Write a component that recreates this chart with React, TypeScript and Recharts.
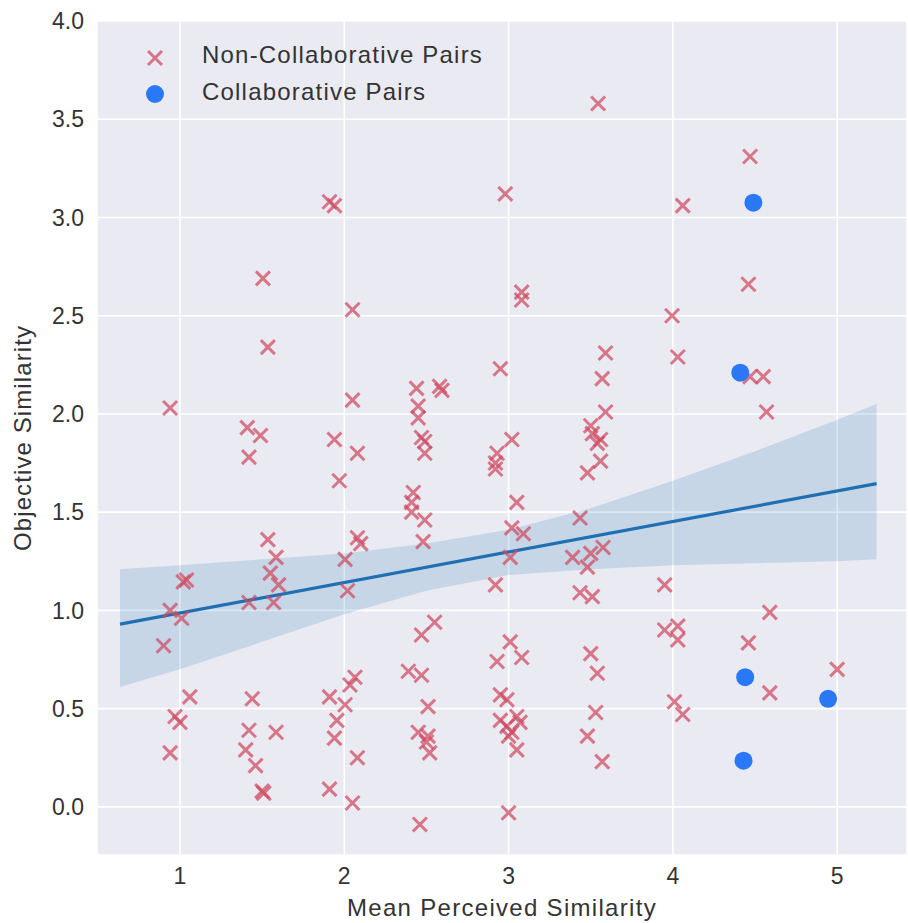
import React from 'react';
import { ComposedChart, Scatter, Line, Area, XAxis, YAxis, CartesianGrid } from 'recharts';

const nonCollaborative = [
  { x: 3.545, y: 3.58 }, { x: 4.47, y: 3.31 }, { x: 4.06, y: 3.06 }, { x: 1.91, y: 3.08 }, { x: 1.94, y: 3.06 },
  { x: 2.98, y: 3.12 }, { x: 1.505, y: 2.69 }, { x: 4.46, y: 2.66 }, { x: 3.08, y: 2.62 }, { x: 3.08, y: 2.58 },
  { x: 2.05, y: 2.53 }, { x: 3.995, y: 2.5 }, { x: 1.535, y: 2.34 }, { x: 3.59, y: 2.31 }, { x: 4.03, y: 2.29 },
  { x: 2.95, y: 2.23 }, { x: 4.47, y: 2.19 }, { x: 4.55, y: 2.19 }, { x: 3.57, y: 2.18 }, { x: 2.44, y: 2.13 },
  { x: 2.58, y: 2.14 }, { x: 2.595, y: 2.12 }, { x: 2.05, y: 2.07 }, { x: 0.94, y: 2.03 }, { x: 4.57, y: 2.01 },
  { x: 3.59, y: 2.01 }, { x: 2.45, y: 2.04 }, { x: 2.45, y: 1.98 }, { x: 1.41, y: 1.93 }, { x: 3.5, y: 1.94 },
  { x: 1.49, y: 1.89 }, { x: 3.51, y: 1.9 }, { x: 3.02, y: 1.87 }, { x: 1.94, y: 1.87 }, { x: 3.56, y: 1.87 },
  { x: 3.54, y: 1.85 }, { x: 2.47, y: 1.88 }, { x: 2.49, y: 1.86 }, { x: 2.49, y: 1.8 }, { x: 2.08, y: 1.8 },
  { x: 2.93, y: 1.8 }, { x: 1.42, y: 1.78 }, { x: 2.92, y: 1.75 }, { x: 2.92, y: 1.72 }, { x: 3.56, y: 1.76 },
  { x: 3.48, y: 1.7 }, { x: 1.97, y: 1.66 }, { x: 2.42, y: 1.6 }, { x: 3.05, y: 1.55 }, { x: 2.41, y: 1.55 },
  { x: 2.41, y: 1.5 }, { x: 3.435, y: 1.47 }, { x: 2.49, y: 1.46 }, { x: 3.02, y: 1.42 }, { x: 3.09, y: 1.39 },
  { x: 1.535, y: 1.36 }, { x: 2.08, y: 1.37 }, { x: 2.1, y: 1.34 }, { x: 2.48, y: 1.35 }, { x: 3.575, y: 1.32 },
  { x: 3.5, y: 1.29 }, { x: 3.39, y: 1.27 }, { x: 1.585, y: 1.27 }, { x: 3.01, y: 1.27 }, { x: 2.005, y: 1.26 },
  { x: 3.48, y: 1.22 }, { x: 1.55, y: 1.19 }, { x: 1.04, y: 1.155 }, { x: 1.02, y: 1.145 }, { x: 1.6, y: 1.13 },
  { x: 2.92, y: 1.13 }, { x: 3.95, y: 1.13 }, { x: 2.02, y: 1.1 }, { x: 3.435, y: 1.09 }, { x: 3.51, y: 1.07 },
  { x: 1.42, y: 1.04 }, { x: 1.57, y: 1.04 }, { x: 0.94, y: 1.0 }, { x: 1.01, y: 0.96 }, { x: 4.59, y: 0.99 },
  { x: 2.55, y: 0.94 }, { x: 3.95, y: 0.9 }, { x: 4.03, y: 0.92 }, { x: 2.47, y: 0.875 }, { x: 4.03, y: 0.85 },
  { x: 3.01, y: 0.84 }, { x: 4.46, y: 0.835 }, { x: 0.9, y: 0.82 }, { x: 3.5, y: 0.78 }, { x: 3.08, y: 0.76 },
  { x: 2.93, y: 0.74 }, { x: 2.39, y: 0.69 }, { x: 2.47, y: 0.67 }, { x: 3.54, y: 0.68 }, { x: 5.0, y: 0.7 },
  { x: 2.065, y: 0.66 }, { x: 2.035, y: 0.62 }, { x: 4.59, y: 0.58 }, { x: 2.95, y: 0.57 }, { x: 1.91, y: 0.56 },
  { x: 1.06, y: 0.56 }, { x: 1.44, y: 0.55 }, { x: 2.99, y: 0.545 }, { x: 4.01, y: 0.535 }, { x: 2.005, y: 0.52 },
  { x: 2.51, y: 0.51 }, { x: 3.53, y: 0.48 }, { x: 4.06, y: 0.47 }, { x: 0.97, y: 0.46 }, { x: 3.05, y: 0.46 },
  { x: 1.0, y: 0.43 }, { x: 1.955, y: 0.44 }, { x: 2.95, y: 0.44 }, { x: 3.07, y: 0.43 }, { x: 2.99, y: 0.41 },
  { x: 1.42, y: 0.39 }, { x: 1.585, y: 0.38 }, { x: 3.02, y: 0.38 }, { x: 2.45, y: 0.38 }, { x: 3.0, y: 0.36 },
  { x: 2.51, y: 0.36 }, { x: 3.48, y: 0.36 }, { x: 1.94, y: 0.35 }, { x: 2.5, y: 0.33 }, { x: 1.4, y: 0.29 },
  { x: 3.05, y: 0.29 }, { x: 0.94, y: 0.275 }, { x: 2.52, y: 0.275 }, { x: 1.46, y: 0.21 }, { x: 2.08, y: 0.25 },
  { x: 3.57, y: 0.23 }, { x: 1.91, y: 0.09 }, { x: 1.5, y: 0.08 }, { x: 1.51, y: 0.07 }, { x: 2.05, y: 0.02 },
  { x: 3.0, y: -0.03 }, { x: 2.46, y: -0.09 },
];

const collaborative = [
  { x: 4.49, y: 3.075 }, { x: 4.41, y: 2.21 }, { x: 4.44, y: 0.66 }, { x: 4.945, y: 0.55 }, { x: 4.43, y: 0.235 },
];

const bandX = [0.635, 1.0, 1.5, 2.0, 2.5, 3.0, 3.5, 4.0, 4.5, 5.0, 5.24];
const bandLow = [0.61, 0.7, 0.84, 0.98, 1.1, 1.18, 1.21, 1.23, 1.24, 1.25, 1.26];
const bandHigh = [1.21, 1.23, 1.26, 1.29, 1.34, 1.41, 1.52, 1.66, 1.81, 1.97, 2.05];
const fitX = [0.635, 5.24];
const fitY = [0.93, 1.645];

const xTicks = [1, 2, 3, 4, 5];
const yTicks = [0, 0.5, 1, 1.5, 2, 2.5, 3, 3.5, 4];

const FONT = '"Liberation Sans", Arial, sans-serif';
const TEXT = '#333333';
const XCOLOR = '#cf4a60';
const BLUE = '#2a78f5';
const LINE = '#1f6fb2';

const bandData = bandX.map((x, i) => {
  const fi = fitX.indexOf(x);
  return { x, band: [bandLow[i], bandHigh[i]], fit: fi >= 0 ? fitY[fi] : undefined };
});

const XMark = (props: any) => {
  const { cx, cy } = props;
  const h = 7;
  return (
    <g opacity={0.72}>
      <line x1={cx - h} y1={cy - h} x2={cx + h} y2={cy + h} stroke={XCOLOR} strokeWidth={3} />
      <line x1={cx - h} y1={cy + h} x2={cx + h} y2={cy - h} stroke={XCOLOR} strokeWidth={3} />
    </g>
  );
};

const Dot = (props: any) => {
  const { cx, cy } = props;
  return <circle cx={cx} cy={cy} r={9} fill={BLUE} />;
};

export default function App() {
  return (
    <div style={{ position: 'absolute', left: 0, top: 0, width: 908, height: 923, fontFamily: FONT }}>
      <ComposedChart
        width={908}
        height={923}
        data={bandData}
        margin={{ top: 21, right: 1, left: 0, bottom: 0 }}
      >
        <CartesianGrid fill="#eaeaf2" fillOpacity={1} stroke="#ffffff" strokeWidth={1.6} />
        <XAxis
          dataKey="x"
          type="number"
          domain={[0.495, 5.425]}
          allowDataOverflow
          ticks={xTicks}
          height={68}
          tickSize={0}
          tickMargin={13}
          axisLine={false}
          tickLine={false}
          tick={{ fill: TEXT, fontSize: 23, fontFamily: FONT }}
          label={{ value: 'Mean Perceived Similarity', position: 'insideBottom', offset: 7, fill: TEXT, fontSize: 24, fontFamily: FONT, style: { letterSpacing: '1.3px' } }}
        />
        <YAxis
          type="number"
          domain={[-0.245, 4.0]}
          allowDataOverflow
          ticks={yTicks}
          width={97}
          tickSize={0}
          tickMargin={13}
          axisLine={false}
          tickLine={false}
          tickFormatter={(v: number) => v.toFixed(1)}
          tick={{ fill: TEXT, fontSize: 23, fontFamily: FONT }}
          label={{ value: 'Objective Similarity', angle: -90, position: 'insideLeft', offset: 22, fill: TEXT, fontSize: 24, fontFamily: FONT, style: { textAnchor: 'middle', letterSpacing: '1.1px' } }}
        />
        <Scatter name="Non-Collaborative Pairs" data={nonCollaborative} dataKey="y" shape={XMark} isAnimationActive={false} />
        <Area dataKey="band" type="linear" stroke="none" fill="#1f77b4" fillOpacity={0.17} isAnimationActive={false} dot={false} activeDot={false} />
        <Line dataKey="fit" type="linear" stroke={LINE} strokeWidth={3.2} dot={false} activeDot={false} connectNulls isAnimationActive={false} />
        <Scatter name="Collaborative Pairs" data={collaborative} dataKey="y" shape={Dot} isAnimationActive={false} />
      </ComposedChart>
      <div style={{ position: 'absolute', left: 140, top: 36, color: TEXT, fontSize: 24, letterSpacing: '1.2px', lineHeight: '37px' }}>
        <div style={{ display: 'flex', alignItems: 'center' }}>
          <svg width={30} height={30} style={{ marginRight: 32 }}>
            <g opacity={0.72}>
              <line x1={8} y1={11} x2={22} y2={25} stroke={XCOLOR} strokeWidth={3} />
              <line x1={8} y1={25} x2={22} y2={11} stroke={XCOLOR} strokeWidth={3} />
            </g>
          </svg>
          <span>Non-Collaborative Pairs</span>
        </div>
        <div style={{ display: 'flex', alignItems: 'center' }}>
          <svg width={30} height={30} style={{ marginRight: 32 }}>
            <circle cx={15} cy={17} r={9} fill={BLUE} />
          </svg>
          <span>Collaborative Pairs</span>
        </div>
      </div>
    </div>
  );
}
